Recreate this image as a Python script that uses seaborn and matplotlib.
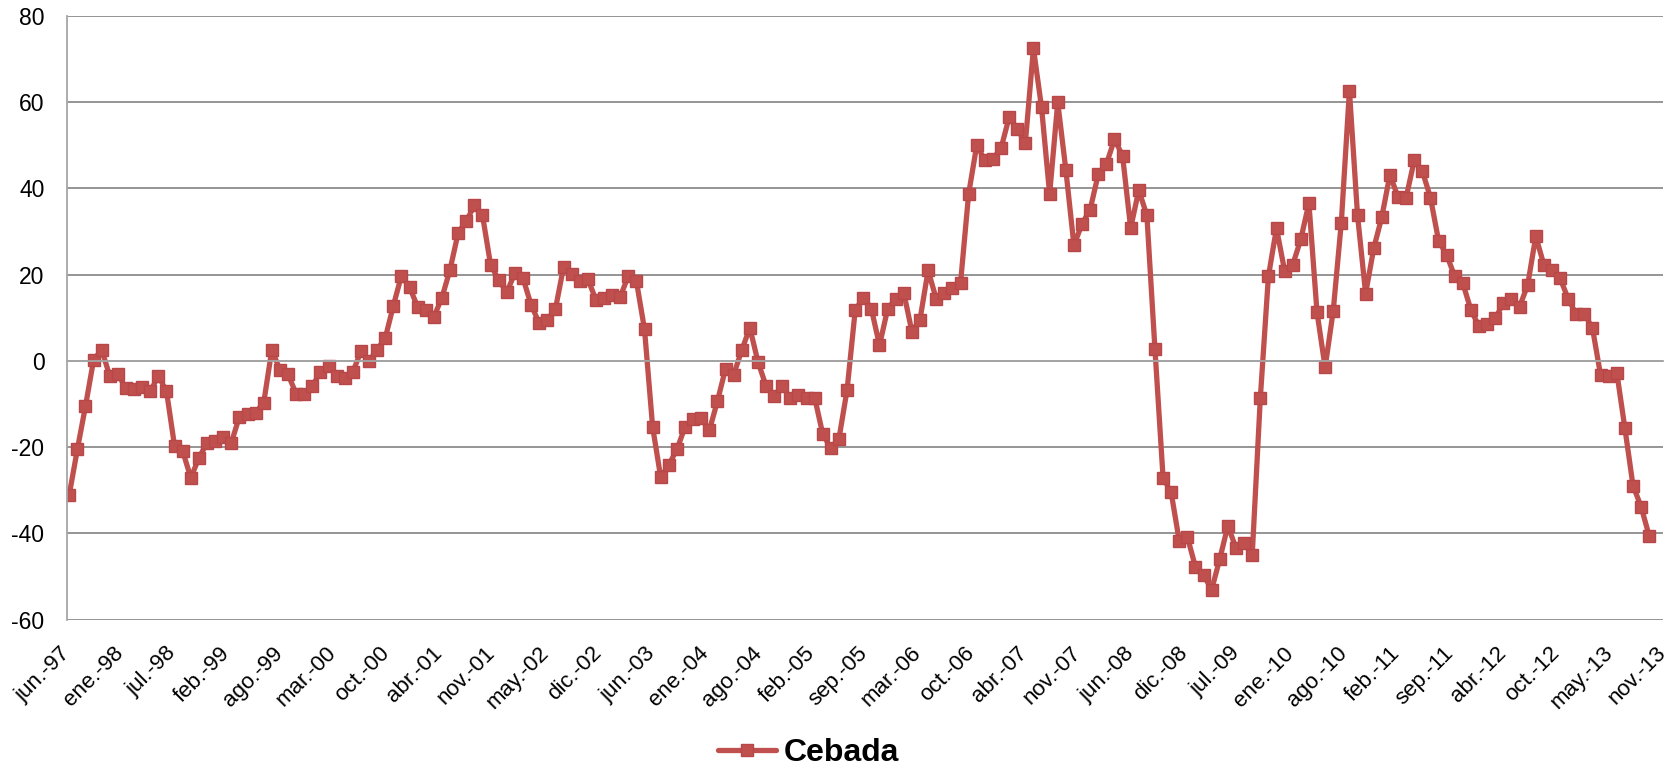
# Serie mensual de Cebada (jun-97 a nov-13), estilo grafico de Excel
import matplotlib
matplotlib.use("Agg")
import matplotlib.pyplot as plt
import numpy as np
import pandas as pd
import seaborn as sns

serie = "Cebada"

valores = [
    -31.0, -20.5, -10.5, 0.2, 2.6, -3.5, -3.1, -6.3, -6.6, -6.0,
    -7.0, -3.5, -7.0, -19.8, -20.9, -27.1, -22.5, -19.0, -18.6, -17.6,
    -19.0, -12.9, -12.4, -12.0, -9.7, 2.6, -2.1, -3.1, -7.6, -7.6,
    -5.8, -2.6, -1.1, -3.5, -4.0, -2.5, 2.2, 0.0, 2.6, 5.3,
    12.8, 19.8, 17.1, 12.5, 11.7, 10.2, 14.7, 21.2, 29.7, 32.4,
    36.1, 33.8, 22.3, 18.8, 15.9, 20.4, 19.2, 13.0, 8.8, 9.5,
    12.0, 21.7, 20.2, 18.6, 19.0, 14.2, 14.7, 15.4, 14.9, 19.7,
    18.5, 7.3, -15.3, -27.0, -24.1, -20.5, -15.3, -13.5, -13.3, -16.1,
    -9.3, -1.8, -3.2, 2.5, 7.7, -0.2, -5.8, -8.1, -5.9, -8.6,
    -7.9, -8.5, -8.5, -17.0, -20.2, -18.0, -6.7, 11.7, 14.7, 12.1,
    3.6, 12.0, 14.4, 15.8, 6.8, 9.6, 21.0, 14.4, 15.8, 17.0,
    18.0, 38.7, 50.0, 46.6, 46.8, 49.3, 56.5, 53.8, 50.5, 72.5,
    58.8, 38.7, 60.0, 44.3, 26.8, 31.8, 35.1, 43.3, 45.6, 51.4,
    47.6, 30.8, 39.6, 33.8, 2.7, -27.1, -30.5, -41.8, -40.8, -47.8,
    -49.7, -53.0, -45.9, -38.2, -43.4, -42.2, -45.1, -8.7, 19.6, 30.8,
    20.9, 22.3, 28.2, 36.6, 11.3, -1.5, 11.6, 32.1, 62.7, 33.8,
    15.6, 26.1, 33.4, 43.2, 38.0, 37.9, 46.5, 44.0, 37.9, 27.9,
    24.6, 19.6, 18.0, 11.8, 8.0, 8.6, 9.9, 13.4, 14.4, 12.6,
    17.6, 28.9, 22.3, 21.1, 19.2, 14.4, 10.8, 10.9, 7.6, -3.3,
    -3.5, -2.7, -15.6, -28.9, -33.8, -40.6,
]

etiquetas = [
    "jun.-97", "ene.-98", "jul.-98", "feb.-99", "ago.-99", "mar.-00",
    "oct.-00", "abr.-01", "nov.-01", "may.-02", "dic.-02", "jun.-03",
    "ene.-04", "ago.-04", "feb.-05", "sep.-05", "mar.-06", "oct.-06",
    "abr.-07", "nov.-07", "jun.-08", "dic.-08", "jul.-09", "ene.-10",
    "ago.-10", "feb.-11", "sep.-11", "abr.-12", "oct.-12", "may.-13",
    "nov.-13",
]

y_ticks = [80, 60, 40, 20, 0, -20, -40, -60]

df = pd.DataFrame({"mes": np.arange(len(valores)), "valor": valores})

sns.set_style("white")
plt.rcParams["font.family"] = ["Liberation Sans", "DejaVu Sans"]
plt.rcParams["axes.unicode_minus"] = False
plt.rcParams["text.color"] = "black"
plt.rcParams["xtick.color"] = "black"
plt.rcParams["ytick.color"] = "black"

rojo = "#C0504D"
gris = "#8C8C8C"

fig = plt.figure(figsize=(16.71, 7.75), dpi=100)
ax = fig.add_axes([0.0399, 0.2004, 0.9553, 0.779])

sns.lineplot(data=df, x="mes", y="valor", ax=ax, color=rojo, linewidth=3.8,
             marker="s", markersize=8.5, markeredgecolor="#B8474A",
             markeredgewidth=1, label=serie, legend=False)

x0, x1 = -0.32, 196.7
ax.set_xlim(x0, x1)
ax.set_ylim(min(y_ticks), max(y_ticks))
ax.set_yticks(y_ticks)
ax.grid(axis="y", color=gris, linewidth=1.3)
ax.set_axisbelow(True)
ax.set_xlabel("")
ax.set_ylabel("")

for s in ["top", "right"]:
    ax.spines[s].set_visible(False)
ax.spines["left"].set_color("#A6A6A6")
ax.spines["left"].set_linewidth(1.3)
ax.spines["bottom"].set_position(("data", 0))
ax.spines["bottom"].set_color("#A6A6A6")
ax.spines["bottom"].set_linewidth(1.3)

ticks = np.linspace(x0, x1, len(etiquetas))
ax.set_xticks(ticks)
ax.tick_params(axis="x", direction="out", length=6, width=1.3, color="#A6A6A6",
               labelbottom=False)
ax.tick_params(axis="y", direction="out", length=6, width=1.3, color="#A6A6A6",
               labelcolor="black", labelsize=16.5, pad=10)

# etiquetas del eje x abajo (posicion "baja" como en Excel)
sec = ax.secondary_xaxis(0)
sec.set_xticks(ticks)
sec.set_xticklabels(etiquetas, rotation=45, ha="right", va="center",
                    rotation_mode="anchor", fontsize=16, color="black")
sec.tick_params(axis="x", length=0, pad=22)
sec.spines["bottom"].set_visible(False)

fig.legend(handles=ax.lines[:1], labels=[serie], loc="center",
           bbox_to_anchor=(0.484, 0.028), frameon=False, handlelength=1.8,
           handletextpad=0.25, prop={"weight": "bold", "size": 23})

fig.savefig("out.png", dpi=100)
